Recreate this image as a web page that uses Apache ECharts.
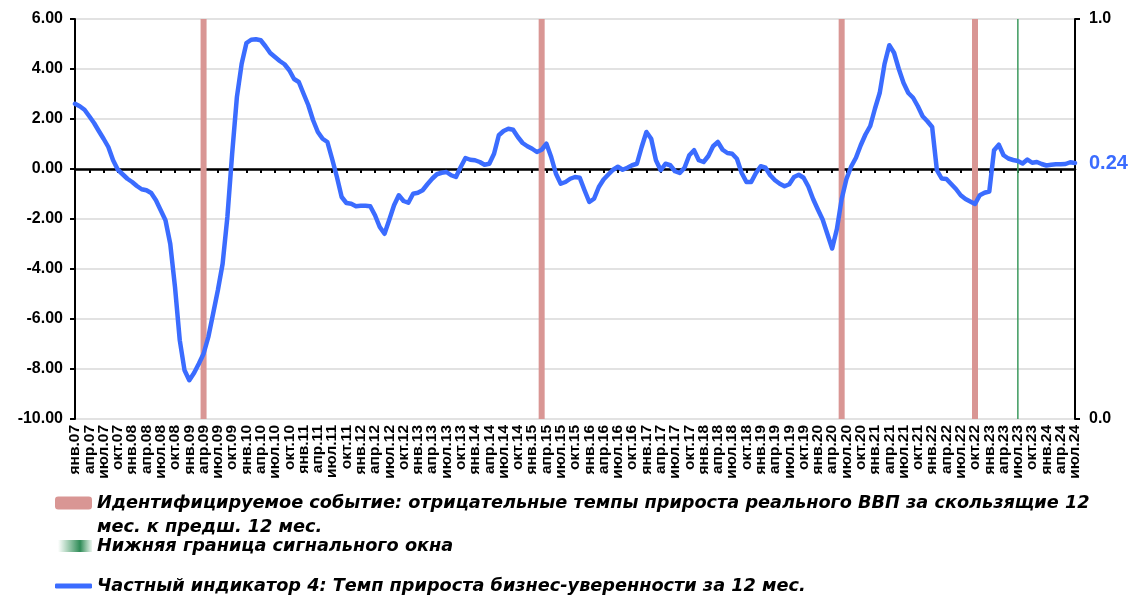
<!DOCTYPE html>
<html>
<head>
<meta charset="utf-8">
<script src="https://cdn.jsdelivr.net/npm/echarts@6/dist/echarts.min.js"></script>
<style>
  html, body { margin: 0; padding: 0; background: #fff; }
  #chart { width: 1137px; height: 599px; }
</style>
</head>
<body>
<div id="chart"></div>
<script>
// monthly categories янв.07 ... июл.24
const MONTHS = ["янв.", "фев.", "мар.", "апр.", "май.", "июн.", "июл.", "авг.", "сен.", "окт.", "ноя.", "дек."];
const YEARS = ["07", "08", "09", "10", "11", "12", "13", "14", "15", "16", "17", "18", "19", "20", "21", "22", "23", "24"];
const LAST_MONTH_24 = 7;
const LABEL_EVERY = 3;

// Частный индикатор 4, by month (2007 ... 2024)
const confidence = [
  2.61, 2.51, 2.37, 2.11, 1.84, 1.52, 1.21, 0.88, 0.35, -0.03, -0.21, -0.39,
  -0.52, -0.68, -0.81, -0.85, -0.96, -1.25, -1.65, -2.05, -2.99, -4.72, -6.85, -8.05,
  -8.45, -8.16, -7.79, -7.39, -6.72, -5.79, -4.85, -3.79, -1.92, 0.61, 2.88, 4.21,
  5.04, 5.17, 5.19, 5.15, 4.91, 4.64, 4.48, 4.32, 4.19, 3.95, 3.60, 3.48,
  3.01, 2.55, 1.95, 1.48, 1.21, 1.08, 0.40, -0.32, -1.12, -1.36, -1.39, -1.49,
  -1.47, -1.47, -1.49, -1.85, -2.32, -2.59, -2.03, -1.45, -1.05, -1.28, -1.35, -0.99,
  -0.95, -0.85, -0.61, -0.39, -0.21, -0.15, -0.12, -0.25, -0.32, 0.08, 0.44, 0.37,
  0.35, 0.28, 0.17, 0.21, 0.61, 1.35, 1.52, 1.61, 1.57, 1.28, 1.04, 0.91,
  0.81, 0.68, 0.77, 1.01, 0.48, -0.19, -0.59, -0.52, -0.39, -0.32, -0.35, -0.85,
  -1.32, -1.19, -0.72, -0.42, -0.22, -0.03, 0.09, -0.03, 0.05, 0.15, 0.21, 0.88,
  1.48, 1.21, 0.35, -0.05, 0.21, 0.15, -0.09, -0.16, 0.05, 0.55, 0.75, 0.35,
  0.28, 0.52, 0.91, 1.08, 0.77, 0.64, 0.61, 0.41, -0.16, -0.52, -0.52, -0.16,
  0.11, 0.05, -0.25, -0.45, -0.59, -0.69, -0.61, -0.32, -0.23, -0.35, -0.70, -1.20,
  -1.62, -2.02, -2.60, -3.18, -2.40, -1.20, -0.40, 0.10, 0.45, 0.95, 1.38, 1.72,
  2.42, 3.05, 4.20, 4.95, 4.65, 4.00, 3.44, 3.04, 2.85, 2.51, 2.11, 1.91,
  1.68, -0.05, -0.38, -0.40, -0.60, -0.80, -1.05, -1.20, -1.30, -1.40, -1.05, -0.95,
  -0.90, 0.75, 0.97, 0.55, 0.42, 0.36, 0.32, 0.22, 0.38, 0.25, 0.28, 0.20,
  0.14, 0.17, 0.19, 0.19, 0.20, 0.27, 0.24
];

// event months (value 1 on the right axis) and the signal window border
const eventMonths = ["апр.09", "мар.15", "июн.20", "окт.22"];
const signalMonths = ["июл.23"];

const leftTicks = { min: -10, max: 6, step: 2 };
const rightTicks = { min: 0, max: 1, step: 1 };

const EVENT_NAME = "Идентифицируемое событие: отрицательные темпы прироста реального ВВП за скользящие 12 мес. к предш. 12 мес.";
const EVENT_LINE1 = "Идентифицируемое событие: отрицательные темпы прироста реального ВВП за скользящие 12";
const EVENT_LINE2 = "мес. к предш. 12 мес.";
const SIGNAL_NAME = "Нижняя граница сигнального окна";
const LINE_NAME = "Частный индикатор 4: Темп прироста бизнес-уверенности за 12 мес.";

const categories = [];
YEARS.forEach((y) => {
  MONTHS.forEach((m, k) => {
    if (y === "24" && k >= LAST_MONTH_24) return;
    categories.push(m + y);
  });
});

const BLUE = "#3b6cff";
const RED = "#d99694";
const GREEN = "#3d9a5f";

const legendText = {
  fontFamily: "DejaVu Sans",
  fontWeight: "bold",
  fontStyle: "italic",
  fontSize: 17.7,
  color: "#000"
};

const chart = echarts.init(document.getElementById("chart"), null, { renderer: "canvas" });

chart.setOption({
  animation: false,
  backgroundColor: "#fff",
  grid: { left: 75, right: 62, top: 19, bottom: 180, containLabel: false },
  xAxis: [
    {
      type: "category",
      data: categories,
      boundaryGap: false,
      position: "bottom",
      axisLine: { show: false, onZero: false },
      axisTick: { show: false },
      splitLine: { show: false },
      axisLabel: {
        // every category gets a label slot, only each 3rd month is written
        interval: 0,
        rotate: 90,
        margin: 6,
        color: "#000",
        fontFamily: "Arial, Liberation Sans",
        fontWeight: "bold",
        fontSize: 15.5,
        formatter: (v, i) => (i % LABEL_EVERY === 0 ? v : "")
      }
    },
    {
      type: "category",
      data: categories,
      boundaryGap: false,
      position: "bottom",
      axisLine: { show: true, onZero: true, onZeroAxisIndex: 0, lineStyle: { color: "#000", width: 2.5 } },
      axisTick: { show: true, interval: LABEL_EVERY - 1, length: 4, lineStyle: { color: "#000", width: 2 } },
      axisLabel: { show: false },
      splitLine: { show: false }
    }
  ],
  yAxis: [
    {
      type: "value",
      min: leftTicks.min,
      max: leftTicks.max,
      interval: leftTicks.step,
      position: "left",
      axisLine: { show: true, lineStyle: { color: "#000", width: 2 } },
      axisTick: { show: true, length: 5, lineStyle: { color: "#000", width: 2 } },
      axisLabel: {
        margin: 12,
        color: "#000",
        fontFamily: "Arial, Liberation Sans",
        fontWeight: "bold",
        fontSize: 16,
        formatter: (v) => v.toFixed(2)
      },
      splitLine: { show: true, lineStyle: { color: "#d9d9d9", width: 1.5 } }
    },
    {
      type: "value",
      min: rightTicks.min,
      max: rightTicks.max,
      interval: rightTicks.step,
      position: "right",
      axisLine: { show: true, lineStyle: { color: "#000", width: 2 } },
      axisTick: { show: true, length: 5, lineStyle: { color: "#000", width: 2 } },
      axisLabel: {
        margin: 14,
        color: "#000",
        fontFamily: "Arial, Liberation Sans",
        fontWeight: "bold",
        fontSize: 16,
        formatter: (v) => v.toFixed(1)
      },
      splitLine: { show: false }
    }
  ],
  legend: [
    {
      data: [EVENT_NAME],
      left: 55,
      top: 494,
      padding: 0,
      itemWidth: 37,
      itemHeight: 13,
      icon: "roundRect",
      selectedMode: false,
      formatter: () => EVENT_LINE1,
      textStyle: legendText
    },
    {
      data: [{
        name: SIGNAL_NAME,
        itemStyle: {
          color: new echarts.graphic.LinearGradient(0, 0, 1, 0, [
            { offset: 0, color: "rgba(61,154,95,0)" },
            { offset: 0.65, color: "#2e8b57" },
            { offset: 1, color: "rgba(61,154,95,0.1)" }
          ])
        }
      }],
      left: 58,
      top: 537,
      padding: 0,
      itemWidth: 34,
      itemHeight: 12,
      icon: "rect",
      selectedMode: false,
      textStyle: legendText
    },
    {
      data: [{ name: LINE_NAME, icon: "roundRect", itemStyle: { color: BLUE } }],
      left: 55,
      top: 577,
      padding: 0,
      itemWidth: 37,
      itemHeight: 5,
      selectedMode: false,
      textStyle: legendText
    }
  ],
  graphic: [
    {
      type: "text",
      left: 97,
      top: 518,
      style: {
        text: EVENT_LINE2,
        font: "italic bold 17.7px 'DejaVu Sans'",
        fill: "#000"
      }
    }
  ],
  series: [
    {
      name: EVENT_NAME,
      type: "bar",
      xAxisIndex: 0,
      yAxisIndex: 1,
      barWidth: 6,
      itemStyle: { color: RED },
      data: eventMonths.map((m) => [m, 1]),
      z: 1
    },
    {
      name: SIGNAL_NAME,
      type: "bar",
      xAxisIndex: 1,
      yAxisIndex: 1,
      barWidth: 1.5,
      itemStyle: { color: GREEN },
      data: signalMonths.map((m) => [m, 1]),
      z: 1
    },
    {
      name: LINE_NAME,
      type: "line",
      xAxisIndex: 0,
      yAxisIndex: 0,
      data: confidence,
      symbol: "none",
      smooth: false,
      lineStyle: { color: BLUE, width: 4.5, cap: "round", join: "round" },
      itemStyle: { color: BLUE },
      z: 5,
      endLabel: {
        show: true,
        distance: 14,
        color: BLUE,
        fontFamily: "Arial, Liberation Sans",
        fontWeight: "bold",
        fontSize: 20,
        formatter: (p) => p.value.toFixed(2)
      }
    }
  ]
});
</script>
</body>
</html>
